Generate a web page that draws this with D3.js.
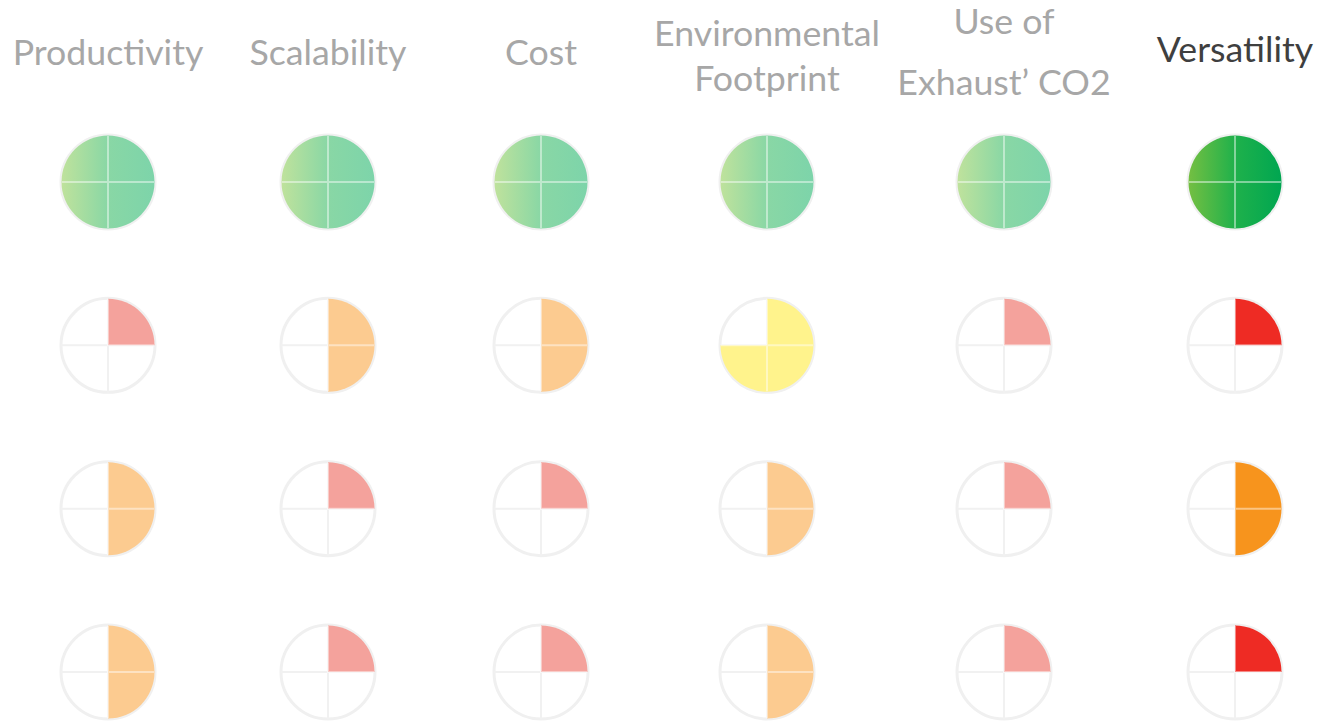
<!DOCTYPE html>
<html>
<head>
<meta charset="utf-8">
<script src="https://cdn.jsdelivr.net/npm/d3@7"></script>
<style>
  body { margin: 0; background: #fff; }
  svg { display: block; }
  text { font-family: Lato, "Open Sans", sans-serif; }
</style>
</head>
<body>
<svg id="chart"></svg>
<script>
// columns and their header lines
var columns = ['Productivity', 'Scalability', 'Cost', 'Environmental Footprint', 'Use of Exhaust CO2', 'Versatility'];
var headerLines = [
  ['Productivity'],
  ['Scalability'],
  ['Cost'],
  ['Environmental', 'Footprint'],
  ['Use of', 'Exhaust\u2019 CO2'],
  ['Versatility']
];
var highlight = 'Versatility';

// filled quarters (0-4) per row, one value per column
var row1 = [4, 4, 4, 4, 4, 4];
var row2 = [1, 2, 2, 3, 1, 1];
var row3 = [2, 1, 1, 2, 1, 2];
var row4 = [2, 1, 1, 2, 1, 1];
var rows = [row1, row2, row3, row4];

var width = 1335, height = 725;
var r = 47;

var svg = d3.select('#chart')
  .attr('width', width)
  .attr('height', height);

// column x positions
var xScale = d3.scaleOrdinal()
  .domain(columns)
  .range([108, 328, 541, 767, 1004, 1235]);

// row y positions
var yScale = d3.scalePoint()
  .domain(d3.range(rows.length))
  .range([182, 672]);

// colours per fill level, muted vs highlighted
var muted = {1: '#f4a29c', 2: '#fccb90', 3: '#fff38c'};
var strong = {1: '#ee2b24', 2: '#f7941d', 3: '#ffe600'};

var defs = svg.append('defs');
var gMuted = defs.append('linearGradient').attr('id', 'greenMuted');
gMuted.append('stop').attr('offset', '0%').attr('stop-color', '#bfe29c');
gMuted.append('stop').attr('offset', '50%').attr('stop-color', '#89d7a5');
gMuted.append('stop').attr('offset', '100%').attr('stop-color', '#7dd4aa');
var gStrong = defs.append('linearGradient').attr('id', 'greenStrong');
gStrong.append('stop').attr('offset', '0%').attr('stop-color', '#74bf42');
gStrong.append('stop').attr('offset', '50%').attr('stop-color', '#1fb14b');
gStrong.append('stop').attr('offset', '100%').attr('stop-color', '#00a651');

function fillColor(q, col) {
  var hi = col === highlight;
  if (q === 4) return hi ? 'url(#greenStrong)' : 'url(#greenMuted)';
  return hi ? strong[q] : muted[q];
}

// headers (the source type is a little wide, hence the x stretch)
var baselines = {1: [65], 2: [46, 91]};
var headers = svg.append('g').attr('class', 'headers')
  .selectAll('g')
  .data(columns)
  .enter()
  .append('g')
  .attr('transform', function(d) { return 'translate(' + xScale(d) + ',0) scale(1.05,1)'; });

headers.append('text')
  .attr('text-anchor', 'middle')
  .attr('font-size', 34)
  .attr('fill', function(d) { return d === highlight ? '#3f3f3f' : '#a7a7a7'; })
  .each(function(d, i) {
    var lines = headerLines[i];
    var ys = baselines[lines.length];
    if (d === 'Use of Exhaust CO2') ys = [34, 95];
    if (d === highlight) ys = [62];
    d3.select(this).selectAll('tspan')
      .data(lines)
      .enter()
      .append('tspan')
      .attr('x', 0)
      .attr('y', function(l, j) { return ys[j]; })
      .text(function(l) { return l; });
  });

// harvey balls
var arc = d3.arc().innerRadius(0).outerRadius(r - 0.5).startAngle(0);

var cells = [];
rows.forEach(function(row, ri) {
  row.forEach(function(q, ci) {
    cells.push({row: ri, col: columns[ci], q: q});
  });
});

var balls = svg.append('g').attr('class', 'balls')
  .selectAll('g')
  .data(cells)
  .enter()
  .append('g')
  .attr('transform', function(d) { return 'translate(' + xScale(d.col) + ',' + yScale(d.row) + ')'; });

balls.append('circle')
  .attr('r', r)
  .attr('fill', '#fff')
  .attr('stroke', '#f0f0f0')
  .attr('stroke-width', 3);

balls.append('path')
  .attr('d', 'M0,' + (-r) + 'V' + r + 'M' + (-r) + ',0H' + r)
  .attr('stroke', '#f1f1f1')
  .attr('stroke-width', 2);

balls.append('path')
  .attr('d', function(d) { return arc({endAngle: d.q * Math.PI / 2}); })
  .attr('fill', function(d) { return fillColor(d.q, d.col); });

balls.filter(function(d) { return d.q > 0; })
  .append('path')
  .attr('d', function(d) {
    // light dividers over the filled quarters only
    var s = '';
    if (d.q >= 1) s += 'M0,' + (-r + 1) + 'V0H' + (r - 1);
    if (d.q >= 2) s += 'M0,0V' + (r - 1);
    if (d.q >= 3) s += 'M0,0H' + (-r + 1);
    return s;
  })
  .attr('fill', 'none')
  .attr('stroke', '#ffffff')
  .attr('stroke-opacity', 0.45)
  .attr('stroke-width', 2);
</script>
</body>
</html>
